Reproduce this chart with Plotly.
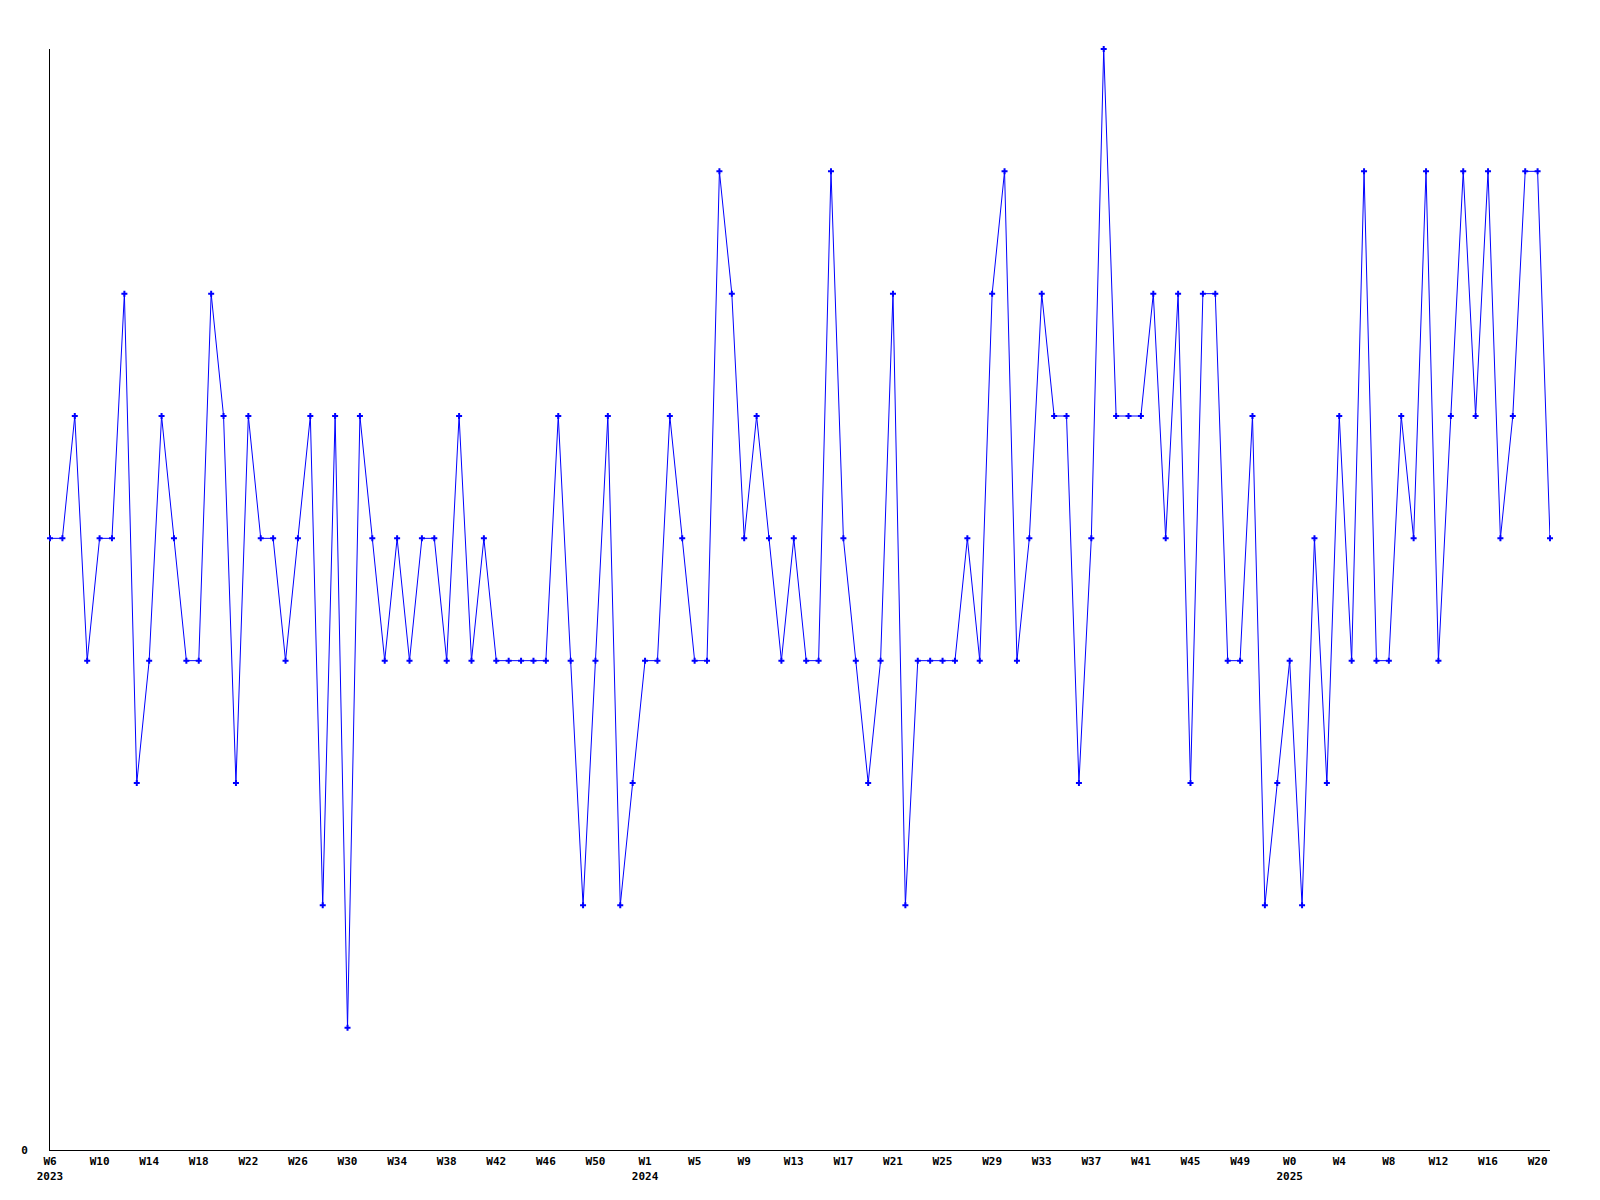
import plotly.graph_objects as go

# Weekly values (one point per week, W6 2023 .. W21 2025)
values = [
    5, 5, 6, 4, 5, 5, 7, 3, 4, 6,
    5, 4, 4, 7, 6, 3, 6, 5, 5, 4,
    5, 6, 2, 6, 1, 6, 5, 4, 5, 4,
    5, 5, 4, 6, 4, 5, 4, 4, 4, 4,
    4, 6, 4, 2, 4, 6, 2, 3, 4, 4,
    6, 5, 4, 4, 8, 7, 5, 6, 5, 4,
    5, 4, 4, 8, 5, 4, 3, 4, 7, 2,
    4, 4, 4, 4, 5, 4, 7, 8, 4, 5,
    7, 6, 6, 3, 5, 9, 6, 6, 6, 7,
    5, 7, 3, 7, 7, 4, 4, 6, 2, 3,
    4, 2, 5, 3, 6, 4, 8, 4, 4, 6,
    5, 8, 4, 6, 8, 6, 8, 5, 6, 8,
    8, 5,
]

# Tick labels (every 4th week)
week_labels = [
    "W6", "W10", "W14", "W18", "W22", "W26", "W30", "W34", "W38", "W42", "W46", "W50",
    "W1", "W5", "W9", "W13", "W17", "W21", "W25", "W29", "W33", "W37", "W41", "W45", "W49",
    "W0", "W4", "W8", "W12", "W16", "W20",
]
year_labels = {"W6": "2023", "W1": "2024", "W0": "2025"}

x = list(range(len(values)))
tickvals = list(range(0, 4 * len(week_labels), 4))
ticktext = [w + ("<br>" + year_labels[w] if w in year_labels else "") for w in week_labels]

fig = go.Figure()
fig.add_trace(go.Scatter(
    x=x, y=values, mode="lines+markers",
    line=dict(color="#0000ff", width=1),
    marker=dict(symbol="cross", size=5, color="#0000ff", line=dict(width=0)),
    cliponaxis=False,
    showlegend=False, hoverinfo="skip",
))

tick_font = dict(family="DejaVu Sans Mono", size=11, color="#000000", weight="bold")

fig.update_layout(
    width=1584, height=1184,
    margin=dict(l=42, r=42, t=41, b=42, pad=0),
    paper_bgcolor="#ffffff", plot_bgcolor="#ffffff",
    font=dict(family="DejaVu Sans Mono", size=11, color="#000000"),
    xaxis=dict(
        range=[0, len(values) - 1],
        tickvals=tickvals, ticktext=ticktext,
        showgrid=False, zeroline=False,
        showline=True, linecolor="#000000", linewidth=1,
        ticks="outside", ticklen=1, tickcolor="rgba(0,0,0,0)",
        tickfont=tick_font, automargin=False,
        fixedrange=True, layer="below traces",
    ),
    yaxis=dict(
        range=[0, 9],
        tickvals=[0], ticktext=["0"],
        showgrid=False, zeroline=False,
        showline=True, linecolor="#000000", linewidth=1,
        ticks="outside", ticklen=19, tickcolor="rgba(0,0,0,0)",
        tickfont=tick_font, automargin=False,
        fixedrange=True, layer="below traces",
    ),
)

fig.write_html("out.html")
